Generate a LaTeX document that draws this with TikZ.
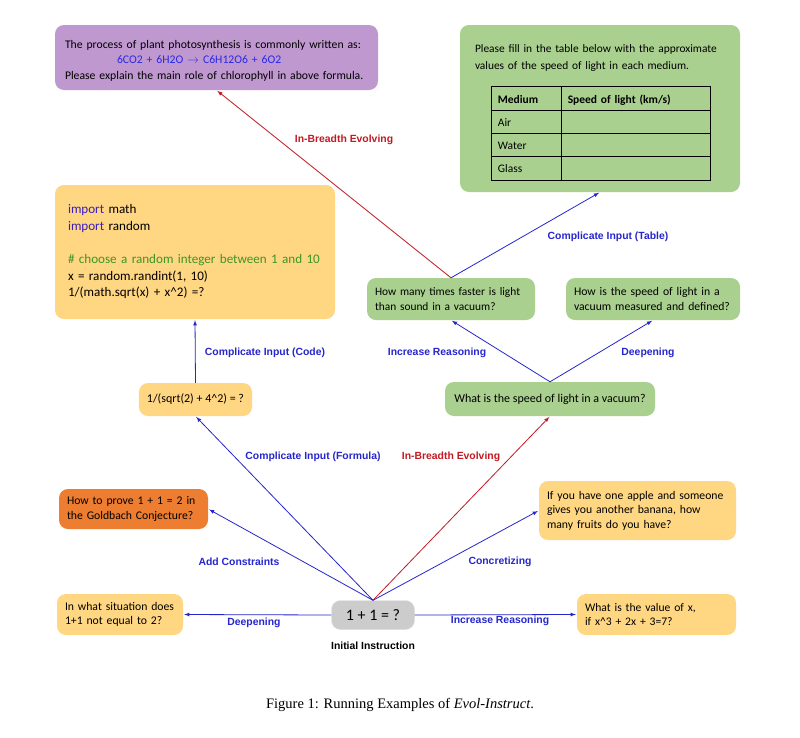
\documentclass[tikz,border=0pt]{standalone}
\usepackage{fontspec}
\setmainfont{Carlito}
\newfontfamily\lblfont{Liberation Sans}
\newfontfamily\capfont{Liberation Serif}
\usepackage{array}
\definecolor{purplebox}{RGB}{192,152,208}
\definecolor{greenbox}{RGB}{169,208,142}
\definecolor{peachbox}{RGB}{255,214,130}
\definecolor{orangebox}{RGB}{237,125,49}
\definecolor{greybox}{RGB}{204,204,204}
\definecolor{evoblue}{RGB}{38,38,205}
\definecolor{evored}{RGB}{195,25,35}
\definecolor{codegreen}{RGB}{60,150,40}
\definecolor{codepurple}{RGB}{60,30,190}
\definecolor{formblue}{RGB}{40,40,230}

\begin{document}
\begin{tikzpicture}[x=1pt,y=-1pt,>=latex,shorten >=1pt]
    \tikzstyle{box}=[rounded corners=9pt,inner xsep=8pt,inner ysep=3pt,align=left,font=\fontsize{11.7}{14.5}\selectfont]
    \tikzstyle{green box}=[box, fill=greenbox]
    \tikzstyle{peach box}=[box, fill=peachbox]
    \tikzstyle{depth}=[->,draw=evoblue,line width=0.8pt]
    \tikzstyle{breadth}=[->,draw=evored,line width=0.8pt]
    \tikzstyle{annot}=[font=\lblfont\bfseries\fontsize{10.4}{12}\selectfont, text=evoblue]

    \useasboundingbox[fill=white] (0,0) rectangle (800,737);

    % Draw the initial instruction
    \node[box, fill=greybox, draw=black!12, minimum width=83pt, minimum height=29pt, font=\fontsize{16}{18}\selectfont] (I) at (373,615) {1 + 1 = ?};
    \node[annot, text=black] (init) at (373,646) {Initial Instruction};

    % Draw the in-depth evolved instructions
    \node[peach box, text width=110pt, minimum height=41pt] (D) at (120,614.5)
        {In what situation does\\1+1 not equal to 2?};
    \node[peach box, text width=143pt, minimum height=41pt, font=\fontsize{11.6}{14.5}\selectfont] (R) at (656.5,614.5)
        {What is the value of x,\\if x\textasciicircum3 + 2x + 3=7?};
    \node[box, fill=orangebox, text width=133pt, minimum height=40pt] (G) at (133.5,509)
        {How to prove 1 + 1 = 2 in\\the Goldbach Conjecture?};
    \node[peach box, text width=181pt, minimum height=59pt] (A) at (637.5,510.5)
        {If you have one apple and someone\\gives you another banana, how\\many fruits do you have?};
    \node[peach box, minimum width=113pt, minimum height=33pt, font=\fontsize{12}{14.5}\selectfont] (F) at (195.5,399.5)
        {1/(sqrt(2) + 4\textasciicircum2) = ?};

    % Draw the in-breadth evolved instruction and its children
    \node[green box, minimum width=210pt, minimum height=34pt, font=\fontsize{12}{14.5}\selectfont] (S) at (550,399)
        {What is the speed of light in a vacuum?};
    \node[green box, text width=152pt, minimum height=42pt, font=\fontsize{11.4}{14.5}\selectfont] (H1) at (451,299)
        {How many times faster is light\\than sound in a vacuum?};
    \node[green box, text width=158pt, minimum height=42pt] (H2) at (653,299)
        {How is the speed of light in a\\vacuum measured and defined?};

    % Draw the top layer
    \node[peach box, inner xsep=13pt, text width=254pt, minimum height=134pt, font=\fontsize{13.1}{16.6}\selectfont] (C) at (195,252)
        {{\color{codepurple}import} math\\
         {\color{codepurple}import} random\\
         ~\\
         {\color{codegreen}\# choose a random integer between 1 and 10}\\
         x = random.randint(1, 10)\\
         1/(math.sqrt(x) + x\textasciicircum2) =?};
    \node[box, fill=purplebox, inner xsep=10pt, text width=303pt, minimum height=65pt, font=\fontsize{11.7}{15.5}\selectfont] (P) at (216.5,57.5)
        {\rule{0pt}{14pt}The process of plant photosynthesis is commonly written as:\\
         \hspace*{52pt}{\color{formblue}6CO2 + 6H2O $\rightarrow$ C6H12O6 + 6O2}\\
         Please explain the main role of chlorophyll in above formula.};
    \node[green box, inner xsep=15pt, text width=250pt, minimum height=167pt, font=\fontsize{11.4}{17}\selectfont] (T) at (600,108.5)
        {\rule{0pt}{16pt}Please fill in the table below with the approximate\\
         values of the speed of light in each medium.\\[14pt]
         \hspace*{16pt}{\fontsize{11.5}{14}\selectfont\setlength{\arrayrulewidth}{0.9pt}\renewcommand{\arraystretch}{1.6}%
         \begin{tabular}{|p{57pt}|p{136pt}|}
         \hline
         \textbf{Medium} & \textbf{Speed of light (km/s)}\\ \hline
         Air & \\ \hline
         Water & \\ \hline
         Glass & \\ \hline
         \end{tabular}}};

    % Connect the initial instruction with the evolved ones
    \foreach \a/\b/\dest in {west/east/D, east/west/R}
        \draw[depth] (I.\a) -- (\dest.\b);
    \foreach \b/\dest in {east/G, south/F, west/A}
        \draw[depth] (I.north) -- (\dest.\b);
    \draw[breadth] (I.north) -- (S.south);

    % Connect the upper layers
    \foreach \dest in {H1,H2}
        \draw[depth] (S.north) -- (\dest.south);
    \draw[depth] (F.north) -- (C.south);
    \draw[depth] (H1.north) -- (T.south);
    \draw[breadth] (H1.north) -- (P.south);

    % Annotate the evolving steps
    \node[annot] (l-deep1) at (254,623) {Deepening};
    \node[annot] (l-reason1) at (500,621) {Increase Reasoning};
    \node[annot] (l-constr) at (239,562) {Add Constraints};
    \node[annot] (l-concr) at (500,562) {Concretizing};
    \node[annot] (l-formula) at (313,457) {Complicate Input (Formula)};
    \node[annot, text=evored] (l-breadth1) at (451,457) {In-Breadth Evolving};
    \node[annot] (l-code) at (265,353) {Complicate Input (Code)};
    \node[annot] (l-reason2) at (437,353) {Increase Reasoning};
    \node[annot] (l-deep2) at (648,353) {Deepening};
    \node[annot] (l-table) at (608,237) {Complicate Input (Table)};
    \node[annot, text=evored] (l-breadth2) at (344,140) {In-Breadth Evolving};

    % Caption
    \node[font=\capfont\fontsize{14.5}{17}\selectfont] (cap) at (400,705) {Figure 1: Running Examples of \textit{Evol-Instruct}.};
\end{tikzpicture}
\end{document}
